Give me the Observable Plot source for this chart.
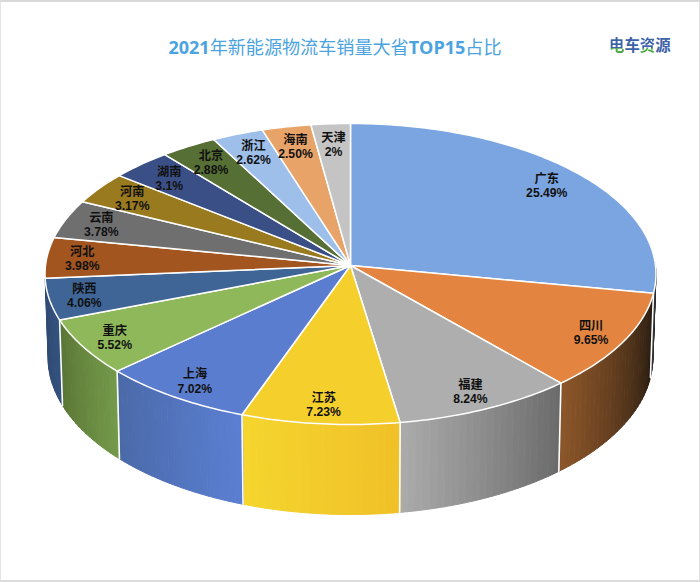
<!DOCTYPE html>
<html><head><meta charset="utf-8">
<script src="https://cdn.jsdelivr.net/npm/d3@7"></script>
<script src="https://cdn.jsdelivr.net/npm/@observablehq/plot@0.6"></script>
<style>
html,body{margin:0;padding:0;background:#fff}
#page{position:relative;width:700px;height:582px;overflow:hidden}
#head{height:100px;position:relative}
#title{position:absolute;left:0;width:670px;top:31px;text-align:center;font:400 18.1px/30px "Noto Sans CJK SC";color:#4ba3e0}
#title b{font:700 18px/30px "Open Sans"}
#logo{position:absolute;left:609px;top:33px;font:700 15.4px/22px "Noto Sans CJK SC";color:#3d62a8}
#logo i{font-style:normal;background:linear-gradient(#3d62a8 68%,#4fa84a 68%);-webkit-background-clip:text;background-clip:text;color:transparent}
#frame{position:absolute;inset:0;border-top:2px solid #d9d9d9;border-left:1px solid #e4e4e4;border-right:1px solid #e0e0e0;border-bottom:2px solid #dcdcdc;pointer-events:none}
svg{display:block}
</style></head><body>
<div id="page">
<div id="head">
<div id="title"><b>2021</b>年新能源物流车销量大省<b>TOP15</b>占比</div>
<div id="logo"><i>电</i>车<i>资</i>源</div>
</div>
<div id="chart"></div>
<div id="frame"></div>
</div>
<script>
const provinces = ["广东","四川","福建","江苏","上海","重庆","陕西","河北","云南","河南","湖南","北京","浙江","海南","天津"];
const shares = [25.49,9.65,8.24,7.23,7.02,5.52,4.06,3.98,3.78,3.17,3.1,2.88,2.62,2.5,2];
const shareLabels = ["25.49%","9.65%","8.24%","7.23%","7.02%","5.52%","4.06%","3.98%","3.78%","3.17%","3.1%","2.88%","2.62%","2.50%","2%"];
const topColors = ["#7ba5e0","#e38540","#aeaeae","#f5cf2c","#5b7dcf","#8fb85a","#3f6597","#a35520","#6f6f6f","#9a7a1e","#3a4f86","#566f35","#9dbfea","#e8a368","#c4c4c4"];
const sideFrom = {"广东":"#15151a","四川":"#241a10","福建":"#6a6a6a","江苏":"#f0c128","上海":"#5b7fd2","重庆":"#749a4a","陕西":"#33527f"};
const sideTo   = {"广东":"#3a3a40","四川":"#8d5629","福建":"#ababab","江苏":"#f5d52e","上海":"#4a69a8","重庆":"#5a7535","陕西":"#2f4a72"};

// perspective view of the disc
const cx = 350, cy = 265, rx = 305, ry = 150, tilt = 0.0565, headH = 100;
function topPoint(a, r = 1) {
  const u = r * Math.sin(a), v = r * Math.cos(a), w = 1 + tilt * v;
  return [cx + rx * u / w, cy - ry * v / w];
}
function bottomPoint(a) {
  const [x, y] = topPoint(a);
  return [cx + 0.99 * (x - cx), y + 83 - 7 * Math.cos(a)];
}

const arcs = d3.pie().sort(null).startAngle(0).endAngle(2 * Math.PI)(shares)
  .map((d, i) => ({name: provinces[i], label: shareLabels[i], color: topColors[i], a0: d.startAngle, a1: d.endAngle}));

const step = Math.PI / 180;
const topRows = [];
for (const s of arcs) {
  const [ax, ay] = topPoint(0, 0);
  topRows.push({z: s.name, fill: s.color, x: ax, y: ay});
  const n = Math.max(2, Math.ceil((s.a1 - s.a0) / step));
  for (let i = 0; i <= n; ++i) {
    const [x, y] = topPoint(s.a0 + (s.a1 - s.a0) * i / n);
    topRows.push({z: s.name, fill: s.color, x, y});
  }
}

const sideRows = [], sideEdges = [];
for (const s of arcs) {
  if (!(s.name in sideFrom)) continue;
  const a0 = Math.max(s.a0, Math.PI / 2 - 0.02);
  const n = Math.max(3, Math.ceil((s.a1 - a0) / (step * 1.4)));
  const mix = d3.interpolateRgb(sideFrom[s.name], sideTo[s.name]);
  for (let i = 0; i < n; ++i) {
    const b0 = a0 + (s.a1 - a0) * i / n, b1 = a0 + (s.a1 - a0) * (i + 1) / n;
    const fill = mix((i + 0.5) / n), z = s.name + i;
    for (const p of [topPoint(b0), topPoint(b1), bottomPoint(b1), bottomPoint(b0)])
      sideRows.push({z, fill, x: p[0], y: p[1]});
  }
  if (s.name !== "陕西") {
    const e = s.a1, p = topPoint(e), q = bottomPoint(e);
    sideEdges.push({z: s.name, x: p[0], y: p[1]}, {z: s.name, x: q[0], y: q[1]});
  }
}

const labelRows = arcs.map(s => {
  const m = (s.a0 + s.a1) / 2, r = 0.885 - 0.035 * Math.max(0, Math.cos(m));
  const [x, y] = topPoint(m, r);
  return {x, y, text: s.name + "\n" + s.label};
});

const chart = Plot.plot({
  width: 700, height: 582 - headH,
  margin: 0,
  x: {axis: null, domain: [0, 700], range: [0, 700]},
  y: {axis: null, domain: [headH, 582], range: [0, 582 - headH]},
  color: {type: "identity"},
  style: {background: "#fff"},
  marks: [
    Plot.line(sideRows, {x: "x", y: "y", z: "z", fill: "fill", stroke: "fill", strokeWidth: 1, curve: "linear-closed"}),
    Plot.line(sideEdges, {x: "x", y: "y", z: "z", stroke: "#fff", strokeWidth: 1.6}),
    Plot.line(topRows, {x: "x", y: "y", z: "z", fill: "fill", stroke: "#fff", strokeWidth: 1.5, strokeLinejoin: "round", curve: "linear-closed"}),
    Plot.text(labelRows, {x: "x", y: "y", text: "text", fill: "#111", fontSize: 12.2, fontWeight: 700, lineHeight: 1.16, fontFamily: '"Liberation Sans","Noto Sans CJK SC"'})
  ]
});
document.getElementById("chart").append(chart);
</script>
</body></html>
